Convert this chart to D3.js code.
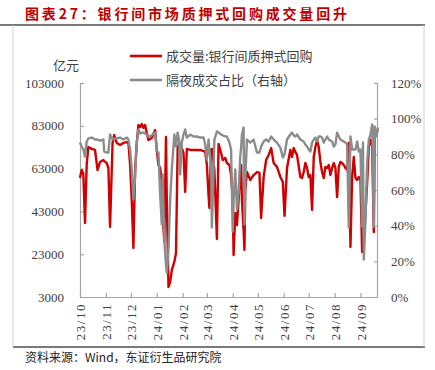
<!DOCTYPE html>
<html>
<head>
<meta charset="utf-8">
<script src="https://cdn.jsdelivr.net/npm/d3@7"></script>
<style>
	body { margin: 0; background: #fff; }
	svg { display: block; }
</style>
</head>
<body>
<svg width="435" height="370"></svg>
<script>
//trading dates
var dates = [
	"2023-10-09","2023-10-11","2023-10-13","2023-10-15","2023-10-17","2023-10-19","2023-10-23","2023-10-27","2023-10-30",
	"2023-11-02","2023-11-06","2023-11-07","2023-11-10","2023-11-12","2023-11-14","2023-11-17","2023-11-19","2023-11-22","2023-11-26","2023-11-30",
	"2023-12-04","2023-12-06","2023-12-08","2023-12-10","2023-12-12","2023-12-14","2023-12-16","2023-12-18","2023-12-20","2023-12-22","2023-12-24","2023-12-26","2023-12-28","2023-12-30",
	"2024-01-03","2024-01-07","2024-01-09","2024-01-11","2024-01-13","2024-01-15","2024-01-16","2024-01-18","2024-01-20","2024-01-21","2024-01-23","2024-01-25","2024-01-27","2024-01-30",
	"2024-02-01","2024-02-03","2024-02-05","2024-02-06","2024-02-08","2024-02-10","2024-02-12","2024-02-14","2024-02-18","2024-02-22","2024-02-26",
	"2024-03-01","2024-03-05","2024-03-07","2024-03-09","2024-03-11","2024-03-12","2024-03-14","2024-03-15","2024-03-18","2024-03-21","2024-03-23","2024-03-26","2024-03-28","2024-03-31",
	"2024-04-02","2024-04-05","2024-04-07","2024-04-09","2024-04-10","2024-04-12","2024-04-14","2024-04-16","2024-04-18","2024-04-19","2024-04-20","2024-04-22","2024-04-23","2024-04-24","2024-04-26","2024-04-30",
	"2024-05-04","2024-05-08","2024-05-11","2024-05-13","2024-05-16","2024-05-19","2024-05-22","2024-05-25","2024-05-28",
	"2024-06-01","2024-06-05","2024-06-08","2024-06-10","2024-06-13","2024-06-17","2024-06-19","2024-06-21","2024-06-23","2024-06-25","2024-06-29",
	"2024-07-01","2024-07-03","2024-07-05","2024-07-07","2024-07-09","2024-07-11","2024-07-13","2024-07-15","2024-07-17","2024-07-19","2024-07-21","2024-07-23","2024-07-25","2024-07-27","2024-07-29","2024-07-31",
	"2024-08-02","2024-08-04","2024-08-06","2024-08-08","2024-08-10","2024-08-12","2024-08-14","2024-08-16","2024-08-18","2024-08-20","2024-08-22","2024-08-24","2024-08-26","2024-08-28","2024-08-30",
	"2024-09-01","2024-09-03","2024-09-05","2024-09-07","2024-09-09","2024-09-11","2024-09-12","2024-09-13","2024-09-15","2024-09-17","2024-09-19","2024-09-21","2024-09-22","2024-09-23","2024-09-25","2024-09-26","2024-09-28","2024-09-30"
];

//成交量:银行间质押式回购 (亿元)
var volume = [
	58600,62300,60500,37600,64700,73100,72200,71700,62300,
	66100,67000,66500,65600,63300,35700,75000,78700,75000,74000,75000,
	75400,75000,64700,48300,25900,62300,75000,83400,82400,83800,82000,83400,79600,76400,
	77300,81000,71700,64700,63300,56700,41300,28700,77800,48300,7700,10000,15600,19400,
	23600,72600,75000,73600,72600,70300,52100,72200,71700,71700,71700,
	71700,71200,70800,64700,50700,44600,71700,72200,62300,30100,74500,70300,67000,68000,
	65600,64700,60000,48300,22600,42300,36600,48300,63300,64700,48300,34300,25000,53000,61400,57700,
	60000,61400,61000,39900,59100,67000,69400,72600,65600,
	63800,59100,56700,40900,63300,71700,68400,72600,70800,69400,59100,
	58600,61400,65600,63300,59100,60000,43700,68400,73100,76400,73100,66100,61400,58600,63800,63300,
	64700,60000,63300,65600,63300,49700,63800,66100,65600,64700,63300,62300,75000,26400,59100,
	68400,58600,57700,59100,57700,24000,25000,28200,42300,56300,73100,76400,76400,73100,33400,79200,81000,80100
];

//隔夜成交占比 (%)
var overnight = [
	86.6,84.4,82.7,78.8,87.2,88.9,89.4,88.3,88.3,
	87.7,88.3,81.6,81.0,81.0,91.1,88.3,88.9,88.9,89.4,88.3,
	89.4,88.3,82.7,71.5,54.7,67.6,86.6,93.9,91.7,92.2,92.2,91.7,91.1,90.0,
	90.6,92.2,81.6,81.0,57.5,40.7,68.7,32.2,18.2,13.7,26.6,54.7,71.5,91.1,
	84.4,92.2,87.2,68.7,86.6,91.1,93.9,89.4,91.1,90.0,90.0,
	89.4,89.4,85.5,77.1,88.3,82.7,74.3,39.0,88.3,92.8,92.2,91.1,90.6,90.0,
	90.0,86.6,82.7,36.7,54.7,71.5,49.1,58.6,78.8,83.8,91.1,95.0,40.6,65.9,88.3,86.6,
	88.3,81.0,81.0,84.4,87.2,88.3,87.2,90.0,88.3,
	86.6,83.8,78.2,79.9,88.3,91.1,92.2,90.6,90.0,91.1,88.3,
	87.7,87.2,85.5,84.4,82.7,81.6,86.6,88.3,89.4,87.2,90.0,90.0,89.4,86.6,88.3,90.0,
	88.3,87.7,87.2,84.4,85.5,92.2,90.0,88.3,87.7,87.2,86.6,85.5,39.0,90.0,82.7,
	82.7,82.7,87.2,81.6,82.7,39.5,86.6,21.0,43.5,75.4,88.3,91.1,93.9,96.7,39.5,95.6,90.0,95.0
];

var leftTicks = [3000, 23000, 43000, 63000, 83000, 103000];
var rightTicks = [0, 20, 40, 60, 80, 100, 120];
var seriesNames = ["成交量:银行间质押式回购", "隔夜成交占比（右轴）"];
var titleText = "图表27：银行间市场质押式回购成交量回升";
var sourceText = "资料来源：Wind，东证衍生品研究院";

var svg = d3.select("svg");
var parseDate = d3.timeParse("%Y-%m-%d");
var rows = dates.map(function (d, i) {
	return { date: parseDate(d), vol: volume[i], pct: overnight[i] };
});

var plot = { left: 80, right: 378, top: 83, bottom: 297 };
var axisColor = "#a6a6a6";
var textColor = "#404040";
var serif = "'Liberation Serif', 'DejaVu Serif', serif";
var cjk = "'Noto Sans CJK SC', sans-serif";

//frame of the report panel
svg.append("rect").attr("width", 435).attr("height", 370).attr("fill", "#fff");
svg.append("line").attr("x1", 0).attr("x2", 425).attr("y1", 25).attr("y2", 25)
	.attr("stroke", "#4d4d4d").attr("stroke-width", 1.5);
svg.append("line").attr("x1", 13).attr("x2", 425).attr("y1", 347).attr("y2", 347)
	.attr("stroke", "#4d4d4d").attr("stroke-width", 1.5);
svg.append("line").attr("x1", 13).attr("x2", 13).attr("y1", 25).attr("y2", 347)
	.attr("stroke", "#d0d0d0").attr("stroke-width", 1);
svg.append("line").attr("x1", 424).attr("x2", 424).attr("y1", 25).attr("y2", 347)
	.attr("stroke", "#d0d0d0").attr("stroke-width", 1);

//title
svg.append("text")
	.attr("x", 25).attr("y", 19)
	.attr("textLength", 322)
	.style("font-family", cjk).style("font-size", "14px").style("font-weight", "bold")
	.attr("fill", "#c00000")
	.text(titleText);

//source
svg.append("text")
	.attr("x", 25).attr("y", 362)
	.style("font-family", cjk).style("font-size", "12px")
	.attr("fill", "#222")
	.text(sourceText);

//scales
var start = rows[0].date;
var end = rows[rows.length - 1].date;
var x = d3.scaleTime().domain([start, end]).range([plot.left, plot.right]);
var yLeft = d3.scaleLinear().domain([3000, 103000]).range([plot.bottom, plot.top]);
var yRight = d3.scaleLinear().domain([0, 120]).range([plot.bottom, plot.top]);

//month ticks counted from the first date, like a date axis with monthly unit
var monthTicks = d3.range(12).map(function (i) { return d3.timeMonth.offset(start, i); });
var fmtMonth = d3.timeFormat("%y/%m");

//axes
var gLeft = svg.append("g").attr("transform", "translate(" + plot.left + ",0)")
	.call(d3.axisLeft(yLeft).tickValues(leftTicks).tickSize(-4).tickPadding(16).tickFormat(d3.format("d")));
var gRight = svg.append("g").attr("transform", "translate(" + plot.right + ",0)")
	.call(d3.axisRight(yRight).tickValues(rightTicks).tickSize(-4).tickPadding(13).tickFormat(function (d) { return d + "%"; }));
var gBottom = svg.append("g").attr("transform", "translate(0," + plot.bottom + ")")
	.call(d3.axisBottom(x).tickValues(monthTicks).tickSize(-4).tickFormat(fmtMonth));

[gLeft, gRight, gBottom].forEach(function (g) {
	g.select(".domain").attr("stroke", axisColor).attr("stroke-width", 1.2);
	g.selectAll(".tick line").attr("stroke", axisColor).attr("stroke-width", 1.2);
	g.selectAll(".tick text").attr("fill", textColor)
		.style("font-family", serif).style("font-size", "13px");
});
//axis lines only, no end caps on the bottom axis
gBottom.select(".domain").attr("d", "M" + plot.left + ",0.5H" + plot.right);
gLeft.select(".domain").attr("d", "M0.5," + plot.top + "V" + plot.bottom);
gRight.select(".domain").attr("d", "M-0.5," + plot.top + "V" + plot.bottom);

gBottom.selectAll(".tick text")
	.attr("transform", "rotate(-90)")
	.attr("text-anchor", "end")
	.attr("x", -6).attr("y", 0).attr("dy", "0.35em")
	.style("letter-spacing", "1.5px");

//unit label
svg.append("text")
	.attr("x", 66).attr("y", 70).attr("text-anchor", "middle")
	.style("font-family", cjk).style("font-size", "13px")
	.attr("fill", textColor)
	.text("亿元");

//lines
var volLine = d3.line()
	.x(function (d) { return x(d.date); })
	.y(function (d) { return yLeft(d.vol); });
var pctLine = d3.line()
	.x(function (d) { return x(d.date); })
	.y(function (d) { return yRight(d.pct); });

svg.append("path").datum(rows)
	.attr("d", volLine)
	.attr("fill", "none").attr("stroke", "#d10000")
	.attr("stroke-width", 2.4).attr("stroke-linejoin", "round");
svg.append("path").datum(rows)
	.attr("d", pctLine)
	.attr("fill", "none").attr("stroke", "#8c8c8c")
	.attr("stroke-width", 2.4).attr("stroke-linejoin", "round");

//legend
var legendColors = ["#d10000", "#8c8c8c"];
var legend = svg.append("g").selectAll("g")
	.data(seriesNames).enter().append("g")
	.attr("transform", function (d, i) { return "translate(130," + (56 + i * 24) + ")"; });
legend.append("line")
	.attr("x1", 0).attr("x2", 32)
	.attr("stroke", function (d, i) { return legendColors[i]; })
	.attr("stroke-width", 2.6);
legend.append("text")
	.attr("x", 36).attr("dy", "0.35em")
	.style("font-family", cjk).style("font-size", "13px")
	.attr("fill", textColor)
	.text(function (d) { return d; });
</script>
</body>
</html>
